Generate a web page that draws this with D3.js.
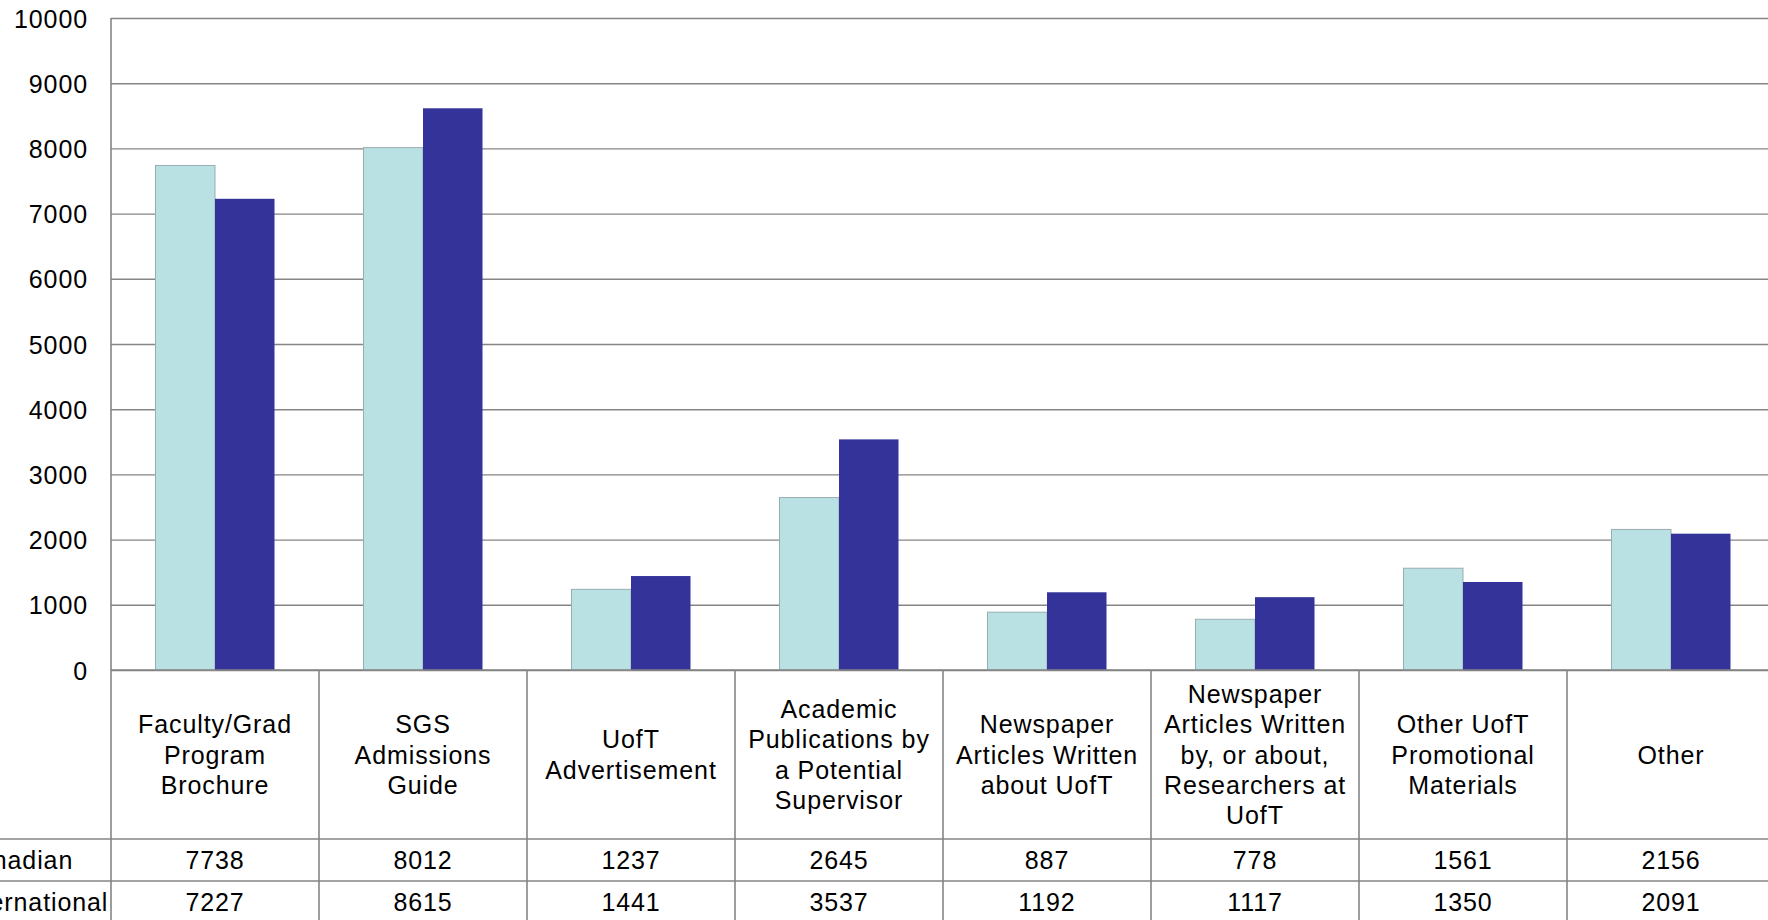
<!DOCTYPE html>
<meta charset="utf-8">
<style>
  body { margin: 0; background: #fff; }
  svg { display: block; }
  text { font-family: "Liberation Sans", Arial, sans-serif; font-size: 25px; letter-spacing: 0.9px; fill: #000; }
</style>
<body>
  <svg width="1768" height="920"></svg>
  <script src="https://cdn.jsdelivr.net/npm/d3@7"></script>
  <script>

    // data
    const categories = [
      ["Faculty/Grad", "Program", "Brochure"],
      ["SGS", "Admissions", "Guide"],
      ["UofT", "Advertisement"],
      ["Academic", "Publications by", "a Potential", "Supervisor"],
      ["Newspaper", "Articles Written", "about UofT"],
      ["Newspaper", "Articles Written", "by, or about,", "Researchers at", "UofT"],
      ["Other UofT", "Promotional", "Materials"],
      ["Other"]
    ]
    const seriesNames = ["Canadian", "International"]
    const canadian = [7738, 8012, 1237, 2645, 887, 778, 1561, 2156]
    const international = [7227, 8615, 1441, 3537, 1192, 1117, 1350, 2091]
    const yTicks = [0, 1000, 2000, 3000, 4000, 5000, 6000, 7000, 8000, 9000, 10000]
    const colors = ["#b9e0e3", "#333399"]

    const values = [canadian, international]

    renderSVG = () => {
      const svg = d3.select("svg"),
        width = +svg.attr("width"),
        height = +svg.attr("height")

      const left = 111, top = 18, base = 670
      const labelRowBottom = 839, rowH = 42
      const catW = 208

      const idx = d3.range(categories.length)

      const x0 = d3.scaleBand()
        .domain(idx)
        .range([left, left + catW * categories.length])

      const x1 = d3.scaleBand()
        .domain(d3.range(seriesNames.length))
        .range([44.5, 163.5])

      const y = d3.scaleLinear()
        .domain([0, 10000])
        .range([base, top])

      // gridlines + tick labels
      const axis = svg.append("g")
        .attr("transform", "translate(" + left + ",0)")
        .call(d3.axisLeft(y).tickValues(yTicks).tickSize(-(width - left)).tickPadding(23).tickFormat(d3.format("d")))

      axis.select(".domain").remove()
      axis.selectAll(".tick line").attr("stroke", "#858585").attr("stroke-width", 1.4)
      axis.selectAll(".tick text")
        .attr("font-family", null).attr("font-size", null)
        .attr("dy", "0.36em")

      // bars
      const groups = svg.append("g").selectAll("g")
        .data(idx)
        .enter().append("g")
        .attr("transform", function (i) {
          return "translate(" + x0(i) + ",0)"
        })

      groups.selectAll("rect")
        .data(function (i) {
          return values.map(function (v, s) { return { s: s, v: v[i] } })
        })
        .enter().append("rect")
        .attr("x", function (d) { return x1(d.s) })
        .attr("width", x1.bandwidth())
        .attr("y", function (d) { return y(d.v) })
        .attr("height", function (d) { return y(0) - y(d.v) })
        .attr("fill", function (d) { return colors[d.s] })
        .attr("stroke", function (d) { return d.s == 0 ? "#9aaeb0" : "none" })
        .attr("stroke-width", 1)

      // data table lines
      const lines = svg.append("g").attr("stroke", "#858585").attr("stroke-width", 1.6)

      lines.append("line")
        .attr("x1", left).attr("x2", left)
        .attr("y1", top).attr("y2", height)

      lines.append("line")
        .attr("x1", left).attr("x2", width)
        .attr("y1", base).attr("y2", base)

      lines.selectAll(".vline")
        .data(idx.slice(1))
        .enter().append("line")
        .attr("class", "vline")
        .attr("x1", function (i) { return x0(i) })
        .attr("x2", function (i) { return x0(i) })
        .attr("y1", base).attr("y2", height)

      lines.selectAll(".hline")
        .data([labelRowBottom, labelRowBottom + rowH, labelRowBottom + 2 * rowH])
        .enter().append("line")
        .attr("class", "hline")
        .attr("x1", 0).attr("x2", width)
        .attr("y1", function (d) { return d }).attr("y2", function (d) { return d })

      // category labels
      const lineH = 30.3
      const labelMid = (base + labelRowBottom) / 2

      svg.append("g").selectAll("text")
        .data(idx)
        .enter().append("text")
        .attr("text-anchor", "middle")
        .each(function (i) {
          const t = d3.select(this)
          const n = categories[i].length
          categories[i].forEach(function (ln, k) {
            t.append("tspan")
              .attr("x", x0(i) + catW / 2)
              .attr("y", labelMid + (k - (n - 1) / 2) * lineH)
              .attr("dy", "0.36em")
              .text(ln)
          })
        })

      // table rows (row names run off the left edge, as in the original)
      seriesNames.forEach(function (name, s) {
        const cy = labelRowBottom + rowH * s + rowH / 2

        svg.append("text")
          .attr("x", -41)
          .attr("y", cy)
          .attr("dy", "0.36em")
          .text(name)

        svg.append("g").selectAll("text")
          .data(idx)
          .enter().append("text")
          .attr("text-anchor", "middle")
          .attr("x", function (i) { return x0(i) + catW / 2 })
          .attr("y", cy)
          .attr("dy", "0.36em")
          .text(function (i) { return values[s][i] })
      })
    }

    renderSVG()

  </script>
</body>
